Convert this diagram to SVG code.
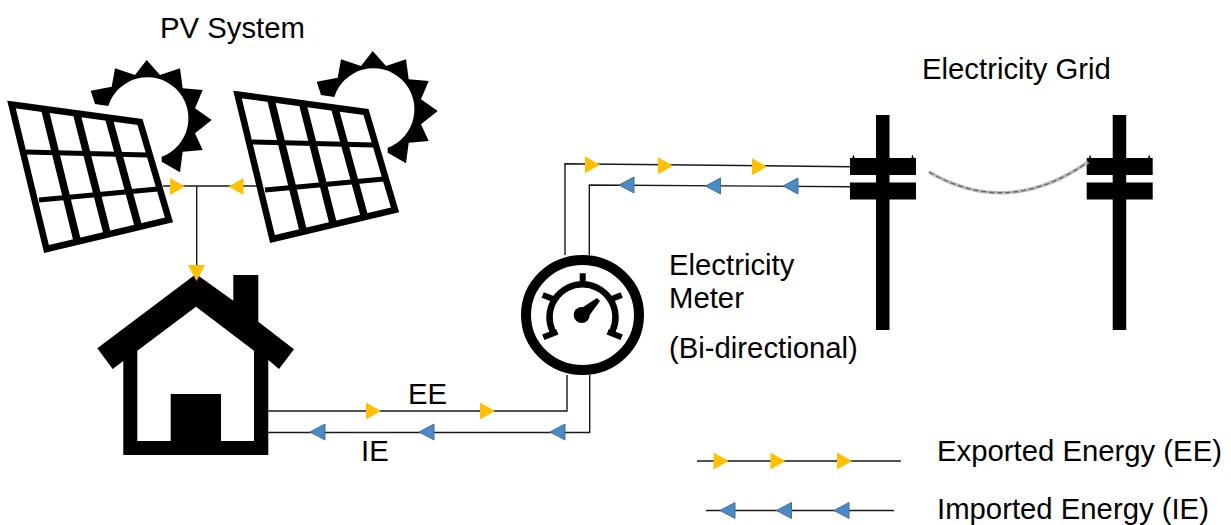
<svg xmlns="http://www.w3.org/2000/svg" xmlns:xlink="http://www.w3.org/1999/xlink" width="1231" height="525" viewBox="0 0 1231 525">
<style>
text{font-family:"Liberation Sans",Arial,sans-serif;font-size:29.3px;fill:#000}
.c{fill:none;stroke:#1a1a1a;stroke-width:1.4}
.y{fill:#ffc000;stroke:none}
.b{fill:#4a8ac6;stroke:#41719c;stroke-width:1}
.grid{fill:none;stroke:#000}
</style>
<defs>
<polygon id="ar" class="y" points="-7.500,-8.500 7.500,0 -7.500,8.500"/>
<polygon id="al" class="b" points="7.500,-8 -7.500,0 7.500,8"/>
<g id="sun"><path fill="#000" d="M90.7 90.7L111.7 86.7L115 68.3L135 75L146.7 60L160 75L180 68.3L182.7 88.3L202.7 90L195 108.3L211.7 120L195 133.3L202.7 150L182.7 151.700L180 172.3L161.7 161.7L161.7 156.7A41 41 0 1 0 108.3 106L95 104Z"/></g>
<g id="panel">
<polygon fill="#fff" stroke="#000" stroke-width="6.500" stroke-linejoin="miter" points="11.5,104.5 140,122 169,220 46.5,249"/>
<g class="grid" stroke-width="7.500"><path d="M45 110L77 240M77 115L107 233M109 119L138 225"/></g>
<g class="grid" stroke-width="5"><path d="M26 152L147 155M39 200L158 189"/></g>
</g>
<g id="pole"><rect x="876" y="115" width="13.5" height="215" fill="#000"/><rect x="850" y="158" width="66" height="17" fill="#000"/><rect x="850" y="182.500" width="66" height="17" fill="#000"/><path d="M852 159L853.300 154.500L855 159ZM911 159L912.500 154.500L914 159Z" fill="#000"/></g>
</defs>

<g id="pv-system">
<use href="#sun"/>
<use href="#sun" x="226" y="-9"/>
<use href="#panel"/>
<use href="#panel" x="226" y="-10"/>
</g>

<g id="house">
<path fill="#000" fill-rule="evenodd" d="M196 274L233.300 300.700V275H258.300V321.700L294 349.300L279 369L268.300 360V455H123.300V361L112.700 369L97.300 348.300ZM196 306.700L137.300 350.700V441H170.700V394H221V441H254V350.700Z"/>
</g>

<g id="meter">
<ellipse cx="582.500" cy="315" rx="56.500" ry="55" fill="#fff" stroke="#000" stroke-width="10"/>
<path d="M552.500 331A33 33 0 1 1 612.500 331" fill="none" stroke="#000" stroke-width="6.500"/>
<path d="M582.700 273.300V283M542.700 295L554 299.300M621.700 295L611 299.300M543.300 337.300L557.300 331.700M621.700 337.300L607.700 331.700" stroke="#000" stroke-width="6" fill="none"/>
<circle cx="581.700" cy="315" r="8"/>
<polygon points="577,311 597,298 600,301 586,320"/>
</g>

<g id="grid">
<use href="#pole"/>
<use href="#pole" x="236.700"/>
<g fill="none">
<path d="M929 172Q1008 218 1088 162" stroke="#bbb" stroke-width="3.500"/>
<path d="M929 172Q1008 218 1088 162" stroke="#666" stroke-width="1.300" stroke-dasharray="5 3"/>
</g>
</g>

<g id="connectors">
<path class="c" d="M163 186H257M196.700 186V272"/>
<path class="c" d="M268 411H567V375M268 432.500H589.700V375"/>
<path class="c" d="M565 255V163.700L850 166.700M589.300 255V185L850 186.700"/>
<path class="c" d="M697 461H901M706 510.500H894"/>
<use href="#ar" x="177.500" y="186.500"/>
<use href="#ar" transform="translate(236 186.500) rotate(180)"/>
<polygon class="y" points="188,265 205,265 196.500,281"/>
<use href="#ar" x="592.500" y="164.700"/><use href="#ar" x="665.500" y="165.700"/><use href="#ar" x="759.500" y="166.700"/>
<use href="#al" x="626.500" y="185"/><use href="#al" x="713" y="186"/><use href="#al" x="790.500" y="186"/>
<use href="#ar" x="373.500" y="411"/><use href="#ar" x="487.500" y="411"/>
<use href="#al" x="317.500" y="432"/><use href="#al" x="426.500" y="432"/><use href="#al" x="557.500" y="432"/>
<use href="#ar" x="721" y="461"/><use href="#ar" x="778" y="461"/><use href="#ar" x="844.500" y="461"/>
<use href="#al" x="727.500" y="510.500"/><use href="#al" x="784" y="510.500"/><use href="#al" x="841.500" y="510.500"/>
</g>

<g id="labels">
<text x="160" y="38">PV System</text>
<text x="922" y="79">Electricity Grid</text>
<text x="669" y="275">Electricity</text>
<text x="669" y="308">Meter</text>
<text x="669" y="358">(Bi-directional)</text>
<text x="408" y="404">EE</text>
<text x="361" y="461">IE</text>
<text x="937" y="461">Exported Energy (EE)</text>
<text x="937" y="519">Imported Energy (IE)</text>
</g>
</svg>
